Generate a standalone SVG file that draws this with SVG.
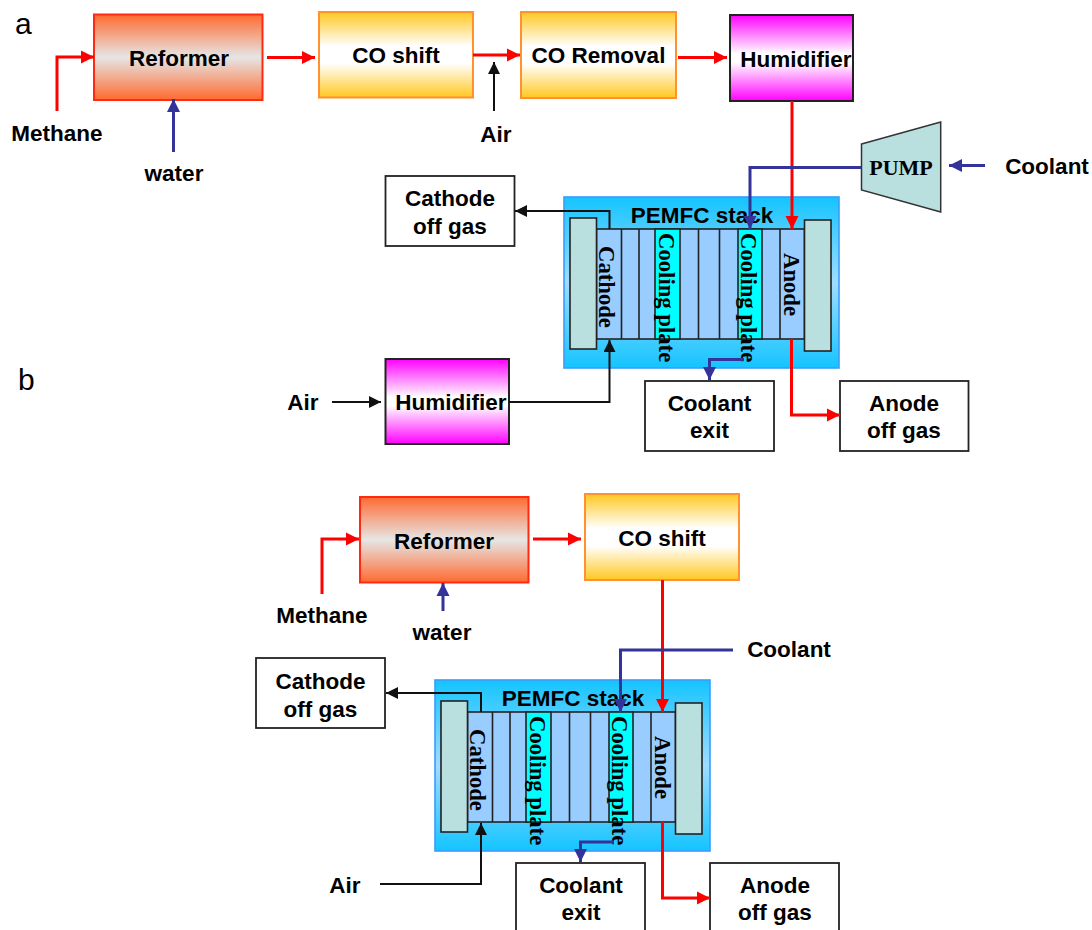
<svg xmlns="http://www.w3.org/2000/svg" width="1092" height="930" viewBox="0 0 1092 930">
<style>
text{font-family:"Liberation Sans",Arial,sans-serif;font-weight:700;font-size:22.5px;fill:#000;text-anchor:middle}
.tag{font-weight:400;font-size:30px;text-anchor:start}
.v{font-family:"Liberation Serif","Times New Roman",serif;font-size:22.700px;text-anchor:start}
.pump{font-family:"Liberation Serif","Times New Roman",serif;font-size:22px}
.ref{fill:url(#gRef);stroke:#ff2a10;stroke-width:2}
.co{fill:url(#gCo);stroke:#ff9130;stroke-width:2}
.hum{fill:url(#gHum);stroke:#222;stroke-width:2}
.box{fill:#fff;stroke:#222;stroke-width:1.800}
.bg{fill:url(#gStack);stroke:#3a9cff;stroke-width:1.600}
.plate{fill:#b9dfdf;stroke:#222;stroke-width:1.600}
.cell{fill:#99ccff;stroke:#222;stroke-width:1.600}
.cool{fill:#00ffff;stroke:#222;stroke-width:1.600}
.r,.n,.k{fill:none}
.r{stroke:#ff0000;stroke-width:3;marker-end:url(#mR)}
.n{stroke:#333399;stroke-width:3;marker-end:url(#mN)}
.k{stroke:#111;stroke-width:2;marker-end:url(#mK)}
</style>
<defs>
<linearGradient id="gRef" x1="0" y1="0" x2="0" y2="1"><stop offset="0" stop-color="#ff6a30"/><stop offset=".5" stop-color="#e6e6e6"/><stop offset="1" stop-color="#ff6a30"/></linearGradient>
<linearGradient id="gCo" x1="0" y1="0" x2="0" y2="1"><stop offset="0" stop-color="#ffc820"/><stop offset=".4" stop-color="#fff"/><stop offset=".6" stop-color="#fff"/><stop offset="1" stop-color="#ffc820"/></linearGradient>
<linearGradient id="gHum" x1="0" y1="0" x2="0" y2="1"><stop offset="0" stop-color="#ff00ff"/><stop offset=".45" stop-color="#fff"/><stop offset=".55" stop-color="#fff"/><stop offset="1" stop-color="#ff00ff"/></linearGradient>
<linearGradient id="gStack" x1="0" y1="0" x2="0" y2="1"><stop offset="0" stop-color="#14c4ff"/><stop offset=".5" stop-color="#a0dcff"/><stop offset="1" stop-color="#14c4ff"/></linearGradient>
<marker id="mR" markerUnits="userSpaceOnUse" markerWidth="14" markerHeight="14" refX="13" refY="7" orient="auto"><path d="M0 0.500L13 7L0 13.500z" fill="#ff0000"/></marker>
<marker id="mN" markerUnits="userSpaceOnUse" markerWidth="14" markerHeight="14" refX="13" refY="7" orient="auto"><path d="M0 0.500L13 7L0 13.500z" fill="#333399"/></marker>
<marker id="mK" markerUnits="userSpaceOnUse" markerWidth="13" markerHeight="12" refX="12" refY="6" orient="auto"><path d="M0 0L12 6L0 12z" fill="#111"/></marker>
</defs>
<rect width="1092" height="930" fill="#fff"/>
<text class="tag" x="15" y="34">a</text>
<text class="tag" x="18" y="390">b</text>

<g id="a-reformer"><rect class="ref" x="94" y="14.500" width="168.500" height="85.500"/><text x="179" y="66">Reformer</text></g>
<g id="a-coshift"><rect class="co" x="319" y="12" width="154" height="85.500"/><text x="396" y="63">CO shift</text></g>
<g id="a-coremoval"><rect class="co" x="521" y="12" width="155" height="86"/><text x="598.500" y="63">CO Removal</text></g>
<g id="a-humidifier"><rect class="hum" x="730" y="15" width="123" height="86"/><text x="796" y="67">Humidifier</text></g>
<g id="a-pump"><polygon points="861.500,144 940.700,122 940.700,212 861.500,190" fill="#b9dfdf" stroke="#333" stroke-width="1.500"/><text class="pump" x="901" y="175">PUMP</text></g>
<g id="a-cathode-off"><rect class="box" x="385.500" y="176" width="129" height="70"/><text x="450" y="206">Cathode</text><text x="450" y="234">off gas</text></g>
<g id="a-humidifier2"><rect class="hum" x="385.500" y="359" width="123.500" height="85"/><text x="451" y="410">Humidifier</text></g>
<g id="a-coolant-exit"><rect class="box" x="645" y="381" width="129" height="70"/><text x="709.500" y="411">Coolant</text><text x="709.500" y="438">exit</text></g>
<g id="a-anode-off"><rect class="box" x="840" y="381" width="128.500" height="70"/><text x="904" y="411">Anode</text><text x="904" y="438">off gas</text></g>

<g id="a-stack">
<rect class="bg" x="564" y="197" width="275" height="171"/>
<rect class="cell" x="596.500" y="229" width="208" height="110"/>
<rect class="cool" x="655" y="229" width="25" height="110"/>
<rect class="cool" x="738" y="229" width="24" height="110"/>
<path d="M621.500 229V339M639 229V339M698.500 229V339M719.500 229V339M780 229V339" stroke="#222" stroke-width="1.600" fill="none"/>
<rect class="plate" x="570" y="218" width="26.500" height="131"/>
<rect class="plate" x="804.500" y="220" width="26.500" height="131"/>
<text x="702" y="223">PEMFC stack</text>
<text class="v" transform="translate(599,246) rotate(90)">Cathode</text>
<text class="v" transform="translate(659,233) rotate(90)">Cooling plate</text>
<text class="v" transform="translate(741,233) rotate(90)">Cooling plate</text>
<text class="v" transform="translate(784,253) rotate(90)">Anode</text>
</g>

<g id="a-labels">
<text x="57" y="141">Methane</text>
<text x="174" y="181">water</text>
<text x="496" y="142">Air</text>
<text x="1047" y="174">Coolant</text>
<text x="303" y="410">Air</text>
</g>

<g id="b-reformer"><rect class="ref" x="360" y="497" width="168.500" height="85.500"/><text x="444" y="549">Reformer</text></g>
<g id="b-coshift"><rect class="co" x="585" y="494" width="154" height="86"/><text x="662" y="546">CO shift</text></g>
<g id="b-cathode-off"><rect class="box" x="256" y="658" width="129" height="70"/><text x="320.500" y="689">Cathode</text><text x="320.500" y="717">off gas</text></g>
<g id="b-coolant-exit"><rect class="box" x="516" y="863" width="129" height="70"/><text x="581" y="893">Coolant</text><text x="581" y="920">exit</text></g>
<g id="b-anode-off"><rect class="box" x="710" y="863" width="129" height="70"/><text x="775" y="893">Anode</text><text x="775" y="920">off gas</text></g>

<g id="b-stack" transform="translate(-129,483)">
<rect class="bg" x="564" y="197" width="275" height="171"/>
<rect class="cell" x="596.500" y="229" width="208" height="110"/>
<rect class="cool" x="655" y="229" width="25" height="110"/>
<rect class="cool" x="738" y="229" width="24" height="110"/>
<path d="M621.500 229V339M639 229V339M698.500 229V339M719.500 229V339M780 229V339" stroke="#222" stroke-width="1.600" fill="none"/>
<rect class="plate" x="570" y="218" width="26.500" height="131"/>
<rect class="plate" x="804.500" y="220" width="26.500" height="131"/>
<text x="702" y="223">PEMFC stack</text>
<text class="v" transform="translate(599,246) rotate(90)">Cathode</text>
<text class="v" transform="translate(659,233) rotate(90)">Cooling plate</text>
<text class="v" transform="translate(741,233) rotate(90)">Cooling plate</text>
<text class="v" transform="translate(784,253) rotate(90)">Anode</text>
</g>

<g id="b-labels">
<text x="322" y="623">Methane</text>
<text x="442" y="640">water</text>
<text x="789" y="657">Coolant</text>
<text x="345" y="893">Air</text>
</g>

<g id="connectors">
<path class="r" d="M57 111V57H94"/>
<path class="r" d="M267 57.500H315"/>
<path class="r" d="M473 55H520"/>
<path class="r" d="M678 57.500H727"/>
<path class="n" d="M173.500 152V99"/>
<path class="k" d="M494 111V62"/>
<path class="r" d="M792 101V229"/>
<path class="n" d="M861.500 167.500H750V229"/>
<path class="n" d="M985 165.500H949"/>
<path class="k" d="M609.500 229V211H515"/>
<path class="k" d="M332 402H381"/>
<path class="k" d="M509 402H609.500V340"/>
<path class="n" d="M744 359.500H709.500V380"/>
<path class="r" d="M791.500 339V415H840"/>
<path class="r" d="M322 594V539H359"/>
<path class="r" d="M533 539H581"/>
<path class="n" d="M443 611V583"/>
<path class="r" d="M662.500 580V712"/>
<path class="n" d="M733 650H620.500V712"/>
<path class="k" d="M481 712V693H386"/>
<path class="k" d="M380 884H481V823"/>
<path class="n" d="M614 842H580.500V862"/>
<path class="r" d="M662.500 822V898H710"/>
</g>
</svg>
